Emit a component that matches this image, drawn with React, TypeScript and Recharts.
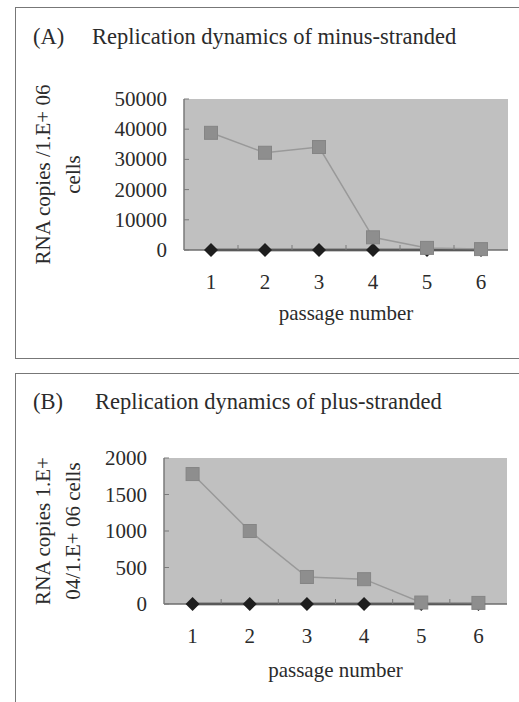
import React from "react";
import { LineChart, Line, XAxis, YAxis, CartesianGrid } from "recharts";

const passages = [1, 2, 3, 4, 5, 6];
const minusInfected = [38800, 32200, 34100, 4200, 700, 300];
const minusControl = [0, 0, 0, 0, 0, 0];
const plusInfected = [1780, 1000, 370, 340, 20, 15];
const plusControl = [0, 0, 0, 0, 0, 0];
const minusTicks = [0, 10000, 20000, 30000, 40000, 50000];
const plusTicks = [0, 500, 1000, 1500, 2000];
const xTicks = [1, 1.5, 2, 2.5, 3, 3.5, 4, 4.5, 5, 5.5, 6];

const FONT = "'Liberation Serif', 'DejaVu Serif', serif";
const TEXT = "#2b2b2b";

const Square = (props: any) => {
  const { cx, cy } = props;
  if (cx == null || cy == null) return null;
  return <rect x={cx - 6.5} y={cy - 6.5} width={13} height={13} fill="#8e8e8e" stroke="#858585" strokeWidth={1} />;
};

const Diamond = (props: any) => {
  const { cx, cy } = props;
  if (cx == null || cy == null) return null;
  return <path d={`M${cx},${cy - 7}L${cx + 7},${cy}L${cx},${cy + 7}L${cx - 7},${cy}Z`} fill="#1e1e1e" />;
};

const XTick = (props: any) => {
  const { x, y, payload } = props;
  const v = payload.value;
  if (Number.isInteger(v)) {
    return (
      <text x={x} y={y + 39} textAnchor="middle" fontFamily={FONT} fontSize={21} fill={TEXT}>
        {v}
      </text>
    );
  }
  return <line x1={x} y1={y} x2={x} y2={y - 5} stroke="#7a7a7a" strokeWidth={1} />;
};

const YTick = (props: any) => {
  const { x, y, payload } = props;
  return (
    <g>
      <text x={x - 17} y={y + 7} textAnchor="end" fontFamily={FONT} fontSize={21} fill={TEXT}>
        {payload.value}
      </text>
      <line x1={x} y1={y} x2={x + 5} y2={y} stroke="#7a7a7a" strokeWidth={1} />
    </g>
  );
};

interface PanelProps {
  top: number;
  height: number;
  margin: { top: number; right: number; left: number; bottom: number };
  yWidth: number;
  infected: number[];
  control: number[];
  yTicks: number[];
  yLines: string[];
  xLabelDy: number;
}

function Panel({ top, height, margin, yWidth, infected, control, yTicks, yLines, xLabelDy }: PanelProps) {
  const data = passages.map((p, i) => ({ p, infected: infected[i], control: control[i] }));
  const yMax = yTicks[yTicks.length - 1];
  return (
    <div style={{ position: "absolute", left: 0, top, width: 519, height }}>
      <LineChart width={519} height={height} data={data} margin={margin}>
        <CartesianGrid fill="#c0c0c0" horizontal={false} vertical={false} />
        <XAxis
          dataKey="p"
          type="number"
          domain={[0.5, 6.5]}
          ticks={xTicks}
          interval={0}
          height={60}
          tickSize={0}
          tickMargin={0}
          tickLine={false}
          tick={<XTick />}
          axisLine={{ stroke: "#6e6e6e", strokeWidth: 1.5 }}
          label={{
            content: (p: any) => {
              const vb = p.viewBox;
              return (
                <text x={vb.x + vb.width / 2} y={vb.y + xLabelDy} textAnchor="middle" fontFamily={FONT} fontSize={21} fill={TEXT}>
                  passage number
                </text>
              );
            },
          }}
        />
        <XAxis xAxisId="top" orientation="top" dataKey="p" type="number" domain={[0.5, 6.5]} height={0} tick={false} tickLine={false} axisLine={{ stroke: "#7a7a7a", strokeWidth: 1.5 }} />
        <YAxis
          domain={[0, yMax]}
          ticks={yTicks}
          interval={0}
          width={yWidth}
          tickSize={0}
          tickMargin={0}
          tickLine={false}
          tick={<YTick />}
          axisLine={{ stroke: "#7a7a7a", strokeWidth: 1.5 }}
          label={{
            content: (p: any) => {
              const vb = p.viewBox;
              const cy = vb.y + vb.height / 2;
              return (
                <g>
                  {yLines.map((t, i) => {
                    const bx = 50 + i * 30;
                    return (
                      <text key={i} x={bx} y={cy} transform={`rotate(-90, ${bx}, ${cy})`} textAnchor="middle" fontFamily={FONT} fontSize={21} fill={TEXT}>
                        {t}
                      </text>
                    );
                  })}
                </g>
              );
            },
          }}
        />
        <YAxis yAxisId="right" orientation="right" domain={[0, yMax]} width={0} tick={false} tickLine={false} axisLine={{ stroke: "#7a7a7a", strokeWidth: 1.5 }} />
        <Line dataKey="control" stroke="#1e1e1e" strokeWidth={2.5} dot={<Diamond />} isAnimationActive={false} />
        <Line dataKey="infected" stroke="#999999" strokeWidth={1.5} dot={<Square />} isAnimationActive={false} />
      </LineChart>
    </div>
  );
}

const titleStyle: React.CSSProperties = {
  position: "absolute",
  fontFamily: FONT,
  fontSize: 22.5,
  color: TEXT,
  whiteSpace: "nowrap",
  lineHeight: 1,
};

export default function App() {
  return (
    <div style={{ position: "absolute", left: 0, top: 0, width: 519, height: 702, overflow: "hidden", background: "#fff" }}>
      <div style={{ position: "absolute", left: 15, top: 7, width: 504, height: 350, borderLeft: "1.5px solid #777", borderTop: "1.5px solid #777", borderBottom: "1.5px solid #777" }} />
      <div style={{ position: "absolute", left: 15, top: 373, width: 504, height: 329, borderLeft: "1.5px solid #777", borderTop: "1.5px solid #777" }} />
      <Panel
        top={0}
        height={360}
        margin={{ top: 99, right: 11, left: 0, bottom: 50 }}
        yWidth={184}
        infected={minusInfected}
        control={minusControl}
        yTicks={minusTicks}
        yLines={["RNA copies /1.E+ 06", "cells"]}
        xLabelDy={70}
      />
      <Panel
        top={360}
        height={342}
        margin={{ top: 98, right: 12, left: 0, bottom: 38 }}
        yWidth={164}
        infected={plusInfected}
        control={plusControl}
        yTicks={plusTicks}
        yLines={["RNA copies 1.E+", "04/1.E+ 06 cells"]}
        xLabelDy={73}
      />
      <div style={{ ...titleStyle, left: 33, top: 26 }}>(A)</div>
      <div style={{ ...titleStyle, left: 92, top: 26 }}>Replication dynamics of minus-stranded</div>
      <div style={{ ...titleStyle, left: 33, top: 391 }}>(B)</div>
      <div style={{ ...titleStyle, left: 95, top: 391 }}>Replication dynamics of plus-stranded</div>
    </div>
  );
}
